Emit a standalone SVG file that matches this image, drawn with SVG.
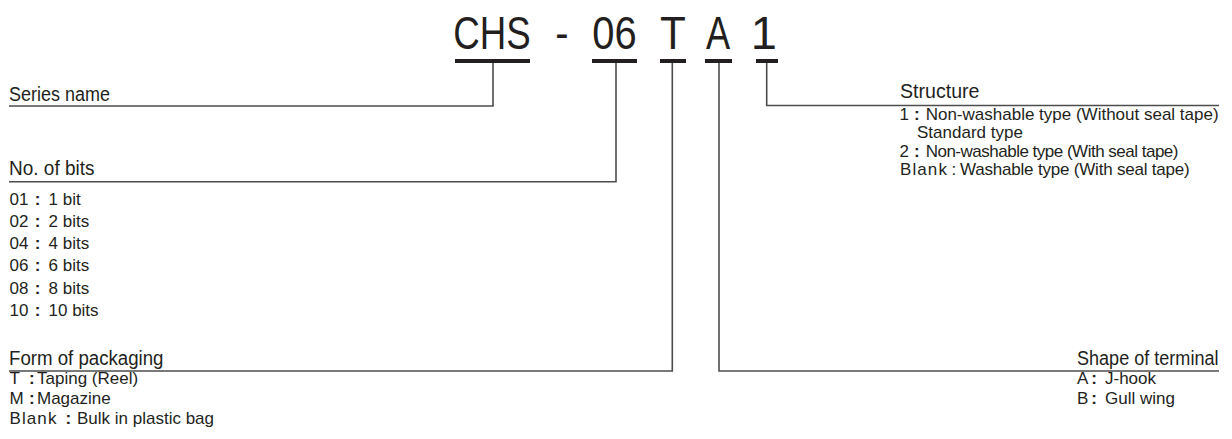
<svg xmlns="http://www.w3.org/2000/svg" width="1232" height="439" viewBox="0 0 1232 439">
<style>
text{font-family:"Liberation Sans",Arial,Helvetica,sans-serif;fill:#231f20}
.big{font-size:47px}
.h{font-size:20px}
.li{font-size:17px}
.c{font-weight:bold}
.bl{letter-spacing:1.1px}
.ul{fill:#231f20}
.con path{fill:none;stroke:#4d4d4d;stroke-width:1.6}
</style>
<rect width="1232" height="439" fill="#ffffff"/>
<g id="code">
<text class="big" text-anchor="middle" transform="translate(492,49) scale(0.78,1)">CHS</text>
<text class="big" text-anchor="middle" transform="translate(562,49) scale(0.85,1)">-</text>
<text class="big" text-anchor="middle" transform="translate(614.5,49) scale(0.85,1)">06</text>
<text class="big" text-anchor="middle" transform="translate(673,49) scale(0.9,1)">T</text>
<text class="big" text-anchor="middle" transform="translate(718,49) scale(0.77,1)">A</text>
<text class="big" text-anchor="middle" transform="translate(763.7,49)">1</text>
<rect class="ul" x="455" y="59" width="75" height="4"/>
<rect class="ul" x="592" y="59" width="45" height="4"/>
<rect class="ul" x="660" y="59" width="26" height="4"/>
<rect class="ul" x="705" y="59" width="27" height="4"/>
<rect class="ul" x="756" y="59" width="22" height="4"/>
</g>
<g id="connectors" class="con">
<path d="M493,63 V106 H9"/>
<path d="M616,63 V181.7 H9"/>
<path d="M672.3,63 V371 H9"/>
<path d="M719,63 V371 H1219"/>
<path d="M766.7,63 V105.5 H1219"/>
</g>
<g id="series-name">
<text class="h" x="9" y="100.7" textLength="101" lengthAdjust="spacingAndGlyphs">Series name</text>
</g>
<g id="no-of-bits">
<text class="h" x="9" y="175" textLength="85.5" lengthAdjust="spacingAndGlyphs">No. of bits</text>
<text class="li" y="204.5"><tspan x="9.5">01 </tspan><tspan class="c" x="34.7">: </tspan><tspan x="48.5">1 bit</tspan></text>
<text class="li" y="226.75"><tspan x="9.5">02 </tspan><tspan class="c" x="34.7">: </tspan><tspan x="48.5">2 bits</tspan></text>
<text class="li" y="249"><tspan x="9.5">04 </tspan><tspan class="c" x="34.7">: </tspan><tspan x="48.5">4 bits</tspan></text>
<text class="li" y="271.25"><tspan x="9.5">06 </tspan><tspan class="c" x="34.7">: </tspan><tspan x="48.5">6 bits</tspan></text>
<text class="li" y="293.5"><tspan x="9.5">08 </tspan><tspan class="c" x="34.7">: </tspan><tspan x="48.5">8 bits</tspan></text>
<text class="li" y="315.75"><tspan x="9.5">10 </tspan><tspan class="c" x="34.7">: </tspan><tspan x="48.5">10 bits</tspan></text>
</g>
<g id="form-of-packaging">
<text class="h" x="9" y="365" textLength="154.5" lengthAdjust="spacingAndGlyphs">Form of packaging</text>
<text class="li" y="384"><tspan x="9.5">T </tspan><tspan class="c" x="28.9">:</tspan><tspan x="37">Taping (Reel)</tspan></text>
<text class="li" y="404"><tspan x="9.5">M</tspan><tspan class="c" x="28.9">:</tspan><tspan x="37">Magazine</tspan></text>
<text class="li" y="424"><tspan x="9.5" class="bl">Blank</tspan><tspan class="c" x="65.5">:</tspan><tspan x="77">Bulk in plastic bag</tspan></text>
</g>
<g id="structure">
<text class="h" x="900" y="98.3" textLength="79.5" lengthAdjust="spacingAndGlyphs">Structure</text>
<text class="li" y="119.5"><tspan x="899.5">1</tspan><tspan class="c" x="913.9">:</tspan><tspan x="925.7">Non-washable type (Without seal tape)</tspan></text>
<text class="li" x="917" y="138">Standard type</text>
<text class="li" y="156.5"><tspan x="899.5">2</tspan><tspan class="c" x="913.9">:</tspan><tspan x="925.7" letter-spacing="-0.5">Non-washable type (With seal tape)</tspan></text>
<text class="li" y="175"><tspan x="900" class="bl">Blank</tspan><tspan x="951.6">:</tspan><tspan x="960" letter-spacing="-0.2">Washable type (With seal tape)</tspan></text>
</g>
<g id="shape-of-terminal">
<text class="h" x="1077" y="365" textLength="141.5" lengthAdjust="spacingAndGlyphs">Shape of terminal</text>
<text class="li" y="384"><tspan x="1077">A</tspan><tspan class="c" x="1091.2">:</tspan><tspan x="1105">J-hook</tspan></text>
<text class="li" y="404"><tspan x="1077">B</tspan><tspan class="c" x="1091.2">:</tspan><tspan x="1105">Gull wing</tspan></text>
</g>
</svg>
